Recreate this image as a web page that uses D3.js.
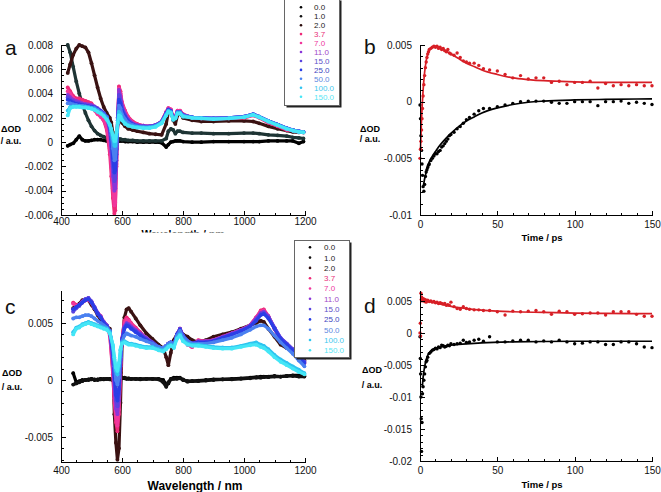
<!DOCTYPE html>
<html><head><meta charset="utf-8">
<script src="https://cdn.jsdelivr.net/npm/d3@7"></script>
<style>
body{margin:0;background:#fff}
svg{display:block}
text{font-family:"Liberation Sans",Arial,Helvetica,sans-serif}
</style>
</head><body>
<svg id="chart" width="661" height="492"></svg>
<script>
// ---------- DATA (ΔOD values given in units of 10^-3, i.e. mOD) ----------
const DELAYS = ["0.0","1.0","2.0","3.7","7.0","11.0","15.0","25.0","50.0","100.0","150.0"];
const COLORS_A = ["#000000","#1e3434","#3a1212","#ee2a78","#f0379c","#8a36d8","#5a44e0","#2a3ee6","#4a80f0","#2ec4f0","#44e6f6"];
const COLORS_C = ["#000000","#111111","#3a1212","#ee2a78","#f0379c","#8a36d8","#5a44e0","#2a3ee6","#4a80f0","#2ec4f0","#44e6f6"];
const LEGEND_MARK = ["#000","#111","#2a0a0a","#ee2a78","#f0379c","#8a36d8","#5a44e0","#2a3ee6","#4a80f0","#2ec4f0","#44e6f6"];
const LEGEND_TEXT = ["#222","#222","#222","#e8307a","#ee3aa0","#a048c8","#6050c8","#4048c0","#6088e0","#44c8ee","#5ae6f4"];

// Panel a: wavelength grid (nm)
const WL_A = [422,430,440,450,460,470,480,490,500,510,520,530,540,550,560,565,570,575,578,582,586,590,595,600,610,620,635,650,670,690,710,730,745,752,760,768,775,782,790,800,830,860,900,950,1000,1030,1050,1080,1110,1140,1160,1180,1195];
const A_0_0 = [-0.3,-0.2,-0.1,0.2,0.5,0.2,0.1,0.1,0.15,0.2,0.2,0.2,0.15,0.1,0.1,0.1,0.05,0.0,-0.1,0.0,0.1,0.1,0.1,0.1,0.05,0.05,0.05,0.0,0.0,0.0,0.0,-0.05,-0.4,-0.2,0.0,0.05,0.1,0.1,0.1,0.05,0.0,0.0,0.05,0.05,0.05,0.05,0.05,0.1,0.1,0.1,0.1,-0.1,0.05];
const A_1_0 = [8.0,7.4,6.2,5.0,4.0,3.1,2.4,1.8,1.3,0.95,0.7,0.55,0.45,0.35,0.3,0.3,0.2,-0.2,-0.4,-0.2,0.1,0.25,0.25,0.2,0.2,0.15,0.15,0.1,0.1,0.1,0.1,0.1,0.3,0.9,1.1,1.0,0.7,0.9,0.9,0.8,0.75,0.75,0.7,0.7,0.75,0.75,0.7,0.6,0.55,0.5,0.4,0.35,0.3];
const A_2_0 = [5.7,6.4,7.2,7.7,8.0,7.9,7.8,7.4,6.5,5.5,4.5,3.6,2.9,2.4,2.0,1.6,0.8,-1.0,-2.0,-0.5,1.5,2.5,2.2,1.6,1.3,1.1,1.0,0.9,0.8,0.7,0.65,0.6,1.5,2.5,2.6,1.8,1.5,2.2,2.4,2.0,1.8,1.7,1.7,1.75,1.75,1.7,1.55,1.3,1.1,0.95,0.85,0.8,0.8];
const A_3_7 = [4.5,4.2,3.8,3.6,3.6,3.5,3.4,3.3,3.2,2.8,2.4,2.1,1.8,1.0,-1.0,-2.8,-4.6,-5.9,-5.6,-2.0,2.0,4.6,4.2,3.3,2.6,2.1,1.7,1.5,1.35,1.3,1.4,1.7,2.5,2.8,2.7,2.0,2.1,2.6,2.6,2.3,2.0,1.95,1.9,1.95,2.0,2.2,2.0,1.6,1.3,1.0,0.95,0.85,0.8];
const A_7_0 = [4.2,4.0,3.6,3.4,3.3,3.2,3.1,3.0,2.9,2.6,2.3,2.1,1.8,1.2,-0.5,-2.0,-3.8,-5.2,-5.0,-1.8,2.0,4.4,4.0,3.2,2.5,2.0,1.6,1.45,1.35,1.3,1.4,1.7,2.5,2.8,2.7,2.0,2.1,2.6,2.6,2.3,2.0,1.95,1.95,2.0,2.05,2.25,2.05,1.65,1.35,1.05,0.95,0.85,0.8];
const A_11 = [3.9,3.7,3.5,3.4,3.3,3.2,3.15,3.1,3.05,2.95,2.8,2.6,2.4,2.0,0.8,-0.8,-2.8,-4.0,-3.8,-1.5,2.0,4.3,3.8,3.0,2.3,1.9,1.55,1.4,1.35,1.3,1.4,1.7,2.4,2.7,2.6,1.9,2.0,2.5,2.5,2.25,2.05,2.0,1.95,2.0,2.1,2.3,2.1,1.75,1.45,1.15,1.0,0.9,0.85];
const A_15 = [3.7,3.5,3.35,3.25,3.2,3.1,3.05,3.0,2.95,2.9,2.75,2.6,2.4,2.1,1.1,-0.3,-2.0,-3.2,-3.0,-1.0,2.0,3.9,3.5,2.8,2.2,1.8,1.5,1.35,1.3,1.3,1.4,1.7,2.4,2.7,2.6,1.9,2.0,2.5,2.5,2.25,2.05,2.0,1.95,2.0,2.1,2.3,2.1,1.75,1.45,1.15,1.0,0.9,0.85];
const A_25 = [3.5,3.4,3.25,3.15,3.1,3.05,3.0,2.95,2.9,2.85,2.7,2.55,2.35,2.1,1.3,0.2,-1.3,-2.5,-2.3,-0.6,1.8,3.5,3.2,2.6,2.1,1.7,1.45,1.3,1.25,1.25,1.35,1.65,2.35,2.65,2.55,1.9,2.0,2.45,2.45,2.2,2.05,2.0,1.95,2.0,2.1,2.3,2.1,1.75,1.45,1.15,1.0,0.9,0.85];
const A_50 = [3.2,3.2,3.1,3.05,3.0,3.0,2.95,2.9,2.85,2.8,2.65,2.5,2.3,2.05,1.4,0.6,-0.5,-1.5,-1.4,-0.2,1.6,3.0,2.8,2.3,1.9,1.6,1.4,1.3,1.25,1.25,1.35,1.65,2.3,2.6,2.5,1.9,2.0,2.45,2.45,2.2,2.05,2.0,1.95,2.0,2.1,2.3,2.1,1.75,1.45,1.15,1.0,0.9,0.85];
const A_100 = [2.6,2.9,2.95,2.95,2.95,2.9,2.9,2.85,2.8,2.7,2.55,2.4,2.2,1.9,1.4,0.9,0.3,-0.3,-0.3,0.5,1.6,2.5,2.3,1.9,1.6,1.4,1.3,1.25,1.2,1.2,1.3,1.6,2.25,2.55,2.45,1.85,1.95,2.4,2.4,2.15,2.0,1.95,1.9,1.95,2.05,2.25,2.05,1.7,1.4,1.1,0.95,0.85,0.8];
const A_150 = [2.2,2.8,2.9,2.9,2.9,2.85,2.85,2.8,2.75,2.65,2.5,2.35,2.15,1.85,1.45,1.1,0.6,0.1,0.1,0.8,1.6,2.2,2.1,1.8,1.5,1.35,1.25,1.2,1.15,1.15,1.25,1.55,2.2,2.5,2.4,1.85,1.95,2.35,2.35,2.1,2.0,1.95,1.9,1.95,2.05,2.25,2.05,1.7,1.4,1.1,0.95,0.85,0.8];

// Panel c: wavelength grid (nm)
const WL_C = [440,450,460,470,480,490,500,510,520,530,540,550,560,570,575,580,585,590,595,600,608,615,622,630,645,660,680,700,720,735,745,752,760,770,780,790,800,815,830,850,875,900,930,960,990,1020,1040,1055,1065,1080,1100,1120,1140,1160,1180,1198];
const C_0_0 = [0.6,-0.2,-0.1,0.0,0.0,0.05,0.1,0.0,0.05,0.1,0.05,0.1,0.1,0.0,-0.2,-0.4,-0.2,0.0,0.1,0.15,0.15,0.1,0.15,0.1,0.1,0.1,0.1,0.1,0.1,0.0,-0.4,-0.3,0.1,0.2,0.2,0.2,0.0,-0.1,-0.1,-0.05,0.0,0.05,0.05,0.1,0.15,0.2,0.25,0.3,0.3,0.3,0.35,0.3,0.35,0.4,0.4,0.35];
const C_1_0 = [-0.4,-0.3,-0.2,-0.1,0.0,0.0,0.05,0.05,0.0,0.05,0.1,0.1,0.05,0.0,-0.3,-0.5,-0.3,-0.1,0.1,0.2,0.2,0.15,0.1,0.1,0.1,0.05,0.1,0.1,0.05,-0.2,-0.6,-0.2,0.05,0.1,0.1,0.15,0.05,-0.15,-0.1,-0.1,-0.05,0.0,0.05,0.05,0.1,0.15,0.2,0.2,0.25,0.25,0.3,0.3,0.35,0.35,0.3,0.3];
const C_2_0 = [6.3,6.5,6.7,7.0,7.0,7.0,6.6,6.2,5.7,5.3,4.9,4.7,4.5,1.5,-3.0,-5.5,-7.0,-6.0,-2.0,3.0,5.5,6.2,6.3,6.0,5.4,4.8,4.1,3.6,3.1,2.8,2.0,1.3,2.4,3.5,4.0,4.4,4.0,3.8,3.5,3.3,3.5,3.8,4.0,4.2,4.5,4.8,5.0,5.2,5.1,4.5,3.8,3.1,2.8,2.5,2.1,1.7];
const C_3_7 = [6.8,6.6,6.6,6.8,7.0,7.1,6.8,6.3,5.9,5.6,5.1,4.8,3.9,0.5,-2.0,-3.7,-4.5,-3.0,0.5,3.6,5.2,5.5,5.3,5.0,4.6,4.2,3.6,3.2,2.8,2.7,3.0,3.2,3.3,3.0,4.0,4.5,3.9,3.1,2.9,3.5,3.4,3.5,3.8,4.1,4.4,4.8,5.5,6.1,6.2,5.6,4.5,3.5,3.0,2.5,2.0,1.5];
const C_7_0 = [6.7,6.5,6.6,6.8,7.0,7.0,6.8,6.3,5.9,5.6,5.1,4.8,4.0,0.8,-1.6,-3.2,-4.0,-2.6,0.8,3.6,5.0,5.3,5.2,4.9,4.5,4.1,3.6,3.2,2.8,2.7,3.0,3.2,3.3,3.0,4.0,4.5,3.9,3.1,2.9,3.4,3.4,3.5,3.8,4.1,4.4,4.8,5.5,6.0,6.1,5.6,4.5,3.5,3.0,2.5,2.0,1.5];
const C_11 = [6.2,6.4,6.6,6.9,7.1,7.2,6.9,6.4,5.9,5.6,5.1,4.8,4.2,1.5,-0.8,-2.5,-3.0,-1.8,1.2,3.6,4.7,5.0,4.9,4.7,4.4,4.1,3.7,3.3,2.9,2.8,3.0,3.2,3.3,3.0,4.0,4.5,3.9,3.4,3.2,3.4,3.4,3.5,3.8,4.1,4.4,4.8,5.4,5.9,6.0,5.6,4.6,3.7,3.2,2.7,2.1,1.6];
const C_15 = [6.0,6.3,6.5,6.8,7.1,7.2,6.9,6.4,5.9,5.5,5.1,4.8,4.3,2.0,0.0,-1.8,-2.3,-1.2,1.5,3.6,4.6,4.9,4.8,4.6,4.3,4.0,3.6,3.3,2.9,2.8,3.0,3.2,3.3,3.0,4.0,4.5,3.9,3.4,3.2,3.3,3.3,3.4,3.7,4.0,4.3,4.7,5.3,5.8,5.9,5.5,4.6,3.7,3.2,2.7,2.1,1.6];
const C_25 = [6.2,6.4,6.6,6.8,7.0,7.1,6.8,6.3,5.8,5.5,5.0,4.7,4.3,2.3,0.4,-1.3,-1.8,-0.8,1.7,3.5,4.5,4.8,4.7,4.5,4.2,3.9,3.5,3.2,2.9,2.8,3.0,3.2,3.3,3.0,4.0,4.4,3.9,3.4,3.2,3.3,3.3,3.4,3.7,4.0,4.3,4.7,5.2,5.7,5.8,5.4,4.5,3.6,3.1,2.6,2.0,1.5];
const C_50 = [5.4,5.5,5.5,5.6,5.7,5.7,5.6,5.4,5.2,5.0,4.8,4.6,4.3,2.8,1.2,0.0,-0.4,0.2,2.0,3.4,3.9,4.1,4.0,3.9,3.8,3.6,3.4,3.2,2.9,2.8,3.0,3.2,3.3,3.0,3.9,4.3,3.8,3.4,3.2,3.2,3.2,3.3,3.5,3.7,4.0,4.4,4.7,4.8,4.8,4.5,3.9,3.3,2.8,2.3,1.7,1.2];
const C_100 = [4.2,4.6,4.7,4.9,5.0,5.1,5.0,4.9,4.8,4.7,4.6,4.5,4.2,3.0,1.8,0.8,0.5,1.2,2.6,3.3,3.4,3.3,3.2,3.2,3.1,3.0,2.9,2.9,2.7,2.6,2.8,3.0,3.1,2.9,3.7,4.0,3.5,3.2,3.1,3.1,3.0,2.9,2.85,2.85,3.0,3.2,3.3,3.1,3.0,2.7,2.2,1.8,1.5,1.2,0.9,0.6];
const C_150 = [4.0,4.5,4.6,4.8,4.9,5.0,4.9,4.8,4.7,4.6,4.5,4.4,4.1,3.1,2.0,1.1,0.8,1.5,2.7,3.2,3.3,3.2,3.1,3.1,3.0,2.9,2.8,2.8,2.6,2.5,2.7,2.9,3.0,2.8,3.6,3.9,3.4,3.1,3.0,3.0,2.9,2.8,2.75,2.75,2.9,3.05,3.1,2.9,2.8,2.5,2.0,1.6,1.3,1.0,0.7,0.5];

// Panel b: kinetics (ps, mOD)
const T_B = [0,0.3,0.6,1,1.3,1.6,2,2.5,3,3.5,4,4.5,5,5.5,6,7,8,9,10,11,12,13,14,15,16,17,18,19,20,22,24,26,28,30,32,35,38,41,45,50,55,60,65,70,75,80,85,90,95,100,105,110,115,120,125,130,135,140,145,150];
const RED_B = [-5.0,-4.2,-3.5,-2.5,-1.5,-0.6,0.5,1.5,2.3,3.0,3.5,3.9,4.2,4.4,4.6,4.7,4.8,4.9,4.8,4.9,4.7,4.8,4.6,4.7,4.5,4.4,4.6,4.3,4.2,4.1,4.3,3.9,3.6,3.5,3.4,3.4,3.2,2.9,2.8,2.7,2.4,2.1,2.3,2.0,2.1,2.1,1.7,1.8,1.5,1.7,1.7,1.8,1.2,1.6,1.4,1.5,1.4,1.5,1.4,1.4];
const BLACK_B = [-0.3,-1.5,-3.0,-4.3,-5.5,-6.5,-7.5,-7.9,-7.3,-6.6,-6.2,-6.0,-5.8,-5.6,-5.5,-5.2,-5.0,-4.8,-4.6,-4.6,-4.4,-4.3,-4.0,-3.9,-3.7,-3.5,-3.3,-3.0,-2.9,-2.7,-2.4,-2.2,-1.9,-1.6,-1.4,-1.1,-0.8,-0.6,-0.6,-0.45,-0.3,-0.15,0.0,0.05,0.05,0.05,-0.05,-0.15,-0.15,0.0,0.0,0.0,-0.35,0.0,0.0,0.05,-0.15,-0.05,-0.15,-0.25];
const FIT_RED_B_T = [0.3,1,2,3,4,5,6,7,8,10,12,15,20,25,30,35,40,50,60,70,80,90,100,120,150];
const FIT_RED_B = [-4.3,-1.5,1.0,2.6,3.6,4.2,4.55,4.75,4.85,4.9,4.8,4.6,4.2,3.8,3.4,3.1,2.8,2.4,2.1,1.95,1.85,1.8,1.75,1.7,1.7];
const FIT_BLACK_B_T = [2,3,4,5,6,8,10,12,15,20,25,30,35,40,50,60,70,80,100,120,150];
const FIT_BLACK_B = [-7.6,-6.8,-6.2,-5.7,-5.3,-4.8,-4.4,-4.0,-3.5,-2.8,-2.2,-1.7,-1.35,-1.0,-0.55,-0.25,-0.05,0.05,0.15,0.2,0.25];

// Panel d: kinetics (ps, mOD)
const T_D = [0,0.2,0.4,0.6,0.8,1,1.3,1.6,2,2.5,3,3.5,4,4.5,5,6,7,8,9,10,11,12,13,14,15,16,17,18,19,20,22,24,26,28,30,32,35,38,41,45,50,55,60,65,70,75,80,85,90,95,100,105,110,115,120,125,130,135,140,145,150];
const RED_D = [0.0,1.5,-0.5,6.2,5.2,5.6,5.0,5.4,5.1,5.3,4.9,5.2,4.8,5.0,5.1,4.9,5.0,4.8,4.9,4.7,4.8,4.6,4.7,4.6,4.5,4.6,4.3,4.4,4.3,4.8,4.1,3.8,3.7,4.1,3.8,3.7,3.6,3.6,3.5,3.5,3.3,2.8,3.4,3.3,3.4,3.5,3.3,2.9,3.4,3.3,2.9,3.0,3.1,3.1,2.8,3.3,3.3,3.3,2.9,2.6,2.6];
const BLACK_D = [-0.6,-4.0,-6.4,-10.0,-13.4,-18.5,-14.0,-9.5,-8.4,-7.4,-6.4,-5.3,-4.5,-4.3,-3.8,-3.2,-3.0,-2.7,-2.6,-2.4,-2.5,-2.2,-2.3,-1.9,-2.0,-2.2,-2.1,-1.9,-2.0,-1.7,-1.8,-1.7,-1.6,-1.15,-1.5,-1.4,-1.15,-1.0,-1.3,-0.6,-1.4,-1.4,-1.25,-1.15,-1.15,-1.4,-1.25,-1.4,-1.15,-1.4,-1.7,-1.6,-1.4,-1.4,-1.8,-1.8,-1.4,-1.4,-1.7,-2.2,-2.3];
const FIT_RED_D_T = [0.5,2,5,10,15,20,25,30,40,50,60,80,100,120,150];
const FIT_RED_D = [5.4,5.2,5.0,4.7,4.4,4.15,3.95,3.8,3.55,3.4,3.3,3.2,3.1,3.05,3.0];
const FIT_BLACK_D_T = [1.5,2,3,4,5,7,10,15,20,30,40,60,100,150];
const FIT_BLACK_D = [-8.5,-7.0,-5.3,-4.2,-3.5,-2.8,-2.4,-2.1,-1.9,-1.7,-1.55,-1.4,-1.3,-1.3];

// Tick values (mOD / nm / ps) and labels
const A_YTICKS = [-6,-4,-2,0,2,4,6,8];
const A_YLABELS = ["-0.006","-0.004","-0.002","0","0.002","0.004","0.006","0.008"];
const WL_TICKS = [400,600,800,1000,1200];
const WL_LABELS = ["400","600","800","1000","1200"];
const B_YTICKS = [-10,-5,0,5];
const B_YLABELS = ["-0.01","-0.005","0","0.005"];
const C_YTICKS = [-5,0,5];
const C_YLABELS = ["-0.005","0","0.005"];
const D_YTICKS = [-20,-15,-10,-5,0,5];
const D_YLABELS = ["-0.02","-0.015","-0.01","-0.005","0","0.005"];
const T_TICKS = [0,50,100,150];
const T_LABELS = ["0","50","100","150"];

const SPEC_A = [A_0_0,A_1_0,A_2_0,A_3_7,A_7_0,A_11,A_15,A_25,A_50,A_100,A_150];
const SPEC_C = [C_0_0,C_1_0,C_2_0,C_3_7,C_7_0,C_11,C_15,C_25,C_50,C_100,C_150];

// ---------- DRAWING ----------
const svg = d3.select("#chart");
const RED = "#d71f26";

function axes(g, x, y, o) {
  const x0 = x.range()[0], y0 = y.range()[0];
  const style = s => { s.selectAll("path,line").attr("stroke","#000").attr("stroke-width",1).attr("shape-rendering","crispEdges");
                       s.selectAll("text").attr("font-size",10).attr("fill","#111").attr("font-family","Liberation Sans, Arial, sans-serif"); };
  g.append("g").attr("transform",`translate(${x0},0)`)
    .call(d3.axisLeft(y).tickValues(o.yMinor).tickSizeInner(-2.5).tickSizeOuter(0).tickFormat(""))
    .call(s=>s.select(".domain").remove()).call(style);
  g.append("g").attr("transform",`translate(${x0},0)`)
    .call(d3.axisLeft(y).tickValues(o.yTicks).tickSizeInner(-5).tickSizeOuter(0).tickPadding(8).tickFormat((d,i)=>o.yLabels[i]))
    .call(style);
  g.append("g").attr("transform",`translate(0,${y0})`)
    .call(d3.axisBottom(x).tickValues(o.xMinor).tickSizeInner(-2.5).tickSizeOuter(0).tickFormat(""))
    .call(s=>s.select(".domain").remove()).call(style);
  g.append("g").attr("transform",`translate(0,${y0})`)
    .call(d3.axisBottom(x).tickValues(o.xTicks).tickSizeInner(-4.5).tickSizeOuter(0).tickPadding(o.xPad).tickFormat((d,i)=>o.xLabels[i]))
    .call(style);
}

function spectra(g, x, y, wl, series, colors) {
  series.forEach((vals, i) => {
    const pts = wl.map((w, j) => [w, vals[j]]);
    g.append("path").datum(pts)
      .attr("fill","none").attr("stroke",colors[i]).attr("stroke-width",3.2)
      .attr("stroke-linejoin","round").attr("stroke-linecap","round")
      .attr("d", d3.line().x(d=>x(d[0])).y(d=>y(d[1])));
    g.selectAll(null).data(pts).enter().append("circle")
      .attr("cx",d=>x(d[0])).attr("cy",d=>y(d[1])).attr("r",1.9).attr("fill",colors[i]);
  });
}

function kinetics(g, x, y, t, vals, color) {
  g.selectAll(null).data(t.map((tt,i)=>[tt,vals[i]])).enter().append("circle")
    .attr("cx",d=>x(d[0])).attr("cy",d=>y(d[1])).attr("r",1.7).attr("fill",color);
}
function fit(g, x, y, t, vals, color) {
  g.append("path").datum(t.map((tt,i)=>[tt,vals[i]]))
    .attr("fill","none").attr("stroke",color).attr("stroke-width",1.7)
    .attr("d", d3.line().curve(d3.curveMonotoneX).x(d=>x(d[0])).y(d=>y(d[1])));
}

function yTitle(cx, y1, y2) {
  svg.append("text").attr("x",cx).attr("y",y1).attr("text-anchor","middle").attr("font-size",9).attr("font-weight","bold").text("ΔOD");
  svg.append("text").attr("x",cx).attr("y",y2).attr("text-anchor","middle").attr("font-size",9).attr("font-weight","bold").text("/ a.u.");
}
function letter(t, xx, yy) {
  svg.append("text").attr("x",xx).attr("y",yy).attr("font-size",21).attr("font-family","Liberation Serif, Times New Roman, serif").attr("fill","#111").text(t);
}
function legend(x0, y0, w, h, rowY0, dy, markX, textX) {
  const g = svg.append("g");
  g.append("rect").attr("x",x0+2).attr("y",y0+2).attr("width",w).attr("height",h).attr("fill","#222");
  g.append("rect").attr("x",x0).attr("y",y0).attr("width",w).attr("height",h).attr("fill","#fff").attr("stroke","#666").attr("stroke-width",1);
  DELAYS.forEach((lab,i) => {
    const yy = rowY0 + i*dy;
    g.append("circle").attr("cx",markX).attr("cy",yy).attr("r",1.3).attr("fill",LEGEND_MARK[i]);
    g.append("text").attr("x",textX).attr("y",yy+2.9).attr("font-size",8).attr("fill",LEGEND_TEXT[i]).text(lab);
  });
}

const wlMinor = d3.range(400,1201,50);
const tMinor = d3.range(0,151,10);

// Panel a
{
  const x = d3.scaleLinear().domain([400,1200]).range([61,305]);
  const y = d3.scaleLinear().domain([-6,8]).range([215,45]);
  const g = svg.append("g");
  spectra(g, x, y, WL_A, SPEC_A, COLORS_A);
  axes(g, x, y, {yTicks:A_YTICKS, yLabels:A_YLABELS, yMinor:d3.range(-6,8.01,0.5), xTicks:WL_TICKS, xLabels:WL_LABELS, xMinor:wlMinor, xPad:2.5});
  // partially hidden axis title
  svg.append("clipPath").attr("id","clipA").append("rect").attr("x",0).attr("y",0).attr("width",330).attr("height",232.5);
  svg.append("text").attr("clip-path","url(#clipA)").attr("x",183).attr("y",238).attr("text-anchor","middle").attr("font-size",10.5).attr("font-weight","bold").text("Wavelength / nm");
}
// Panel b
{
  const x = d3.scaleLinear().domain([0,150]).range([420,652]);
  const y = d3.scaleLinear().domain([-10,5]).range([215,45]);
  const g = svg.append("g");
  kinetics(g, x, y, T_B, BLACK_B, "#000");
  kinetics(g, x, y, T_B, RED_B, RED);
  fit(g, x, y, FIT_BLACK_B_T, FIT_BLACK_B, "#000");
  fit(g, x, y, FIT_RED_B_T, FIT_RED_B, RED);
  axes(g, x, y, {yTicks:B_YTICKS, yLabels:B_YLABELS, yMinor:d3.range(-10,5.01,1), xTicks:T_TICKS, xLabels:T_LABELS, xMinor:tMinor, xPad:5.5});
  svg.append("text").attr("x",542).attr("y",241).attr("text-anchor","middle").attr("font-size",9.5).attr("font-weight","bold").text("Time / ps");
}
// Panel c
{
  const x = d3.scaleLinear().domain([400,1200]).range([61,305]);
  const y = d3.scaleLinear().domain([-7.2,7.9]).range([462,290]);
  const g = svg.append("g");
  spectra(g, x, y, WL_C, SPEC_C, COLORS_C);
  axes(g, x, y, {yTicks:C_YTICKS, yLabels:C_YLABELS, yMinor:d3.range(-7,7.01,1), xTicks:WL_TICKS, xLabels:WL_LABELS, xMinor:wlMinor, xPad:4.5});
  svg.append("text").attr("x",195).attr("y",490).attr("text-anchor","middle").attr("font-size",12).attr("font-weight","bold").text("Wavelength / nm");
}
// Panel d
{
  const x = d3.scaleLinear().domain([0,150]).range([420,652]);
  const y = d3.scaleLinear().domain([-20,6.7]).range([461,290]);
  const g = svg.append("g");
  kinetics(g, x, y, T_D, BLACK_D, "#000");
  kinetics(g, x, y, T_D, RED_D, RED);
  fit(g, x, y, FIT_BLACK_D_T, FIT_BLACK_D, "#000");
  fit(g, x, y, FIT_RED_D_T, FIT_RED_D, RED);
  axes(g, x, y, {yTicks:D_YTICKS, yLabels:D_YLABELS, yMinor:d3.range(-20,6.01,1), xTicks:T_TICKS, xLabels:T_LABELS, xMinor:tMinor, xPad:5.5});
  svg.append("text").attr("x",542).attr("y",488).attr("text-anchor","middle").attr("font-size",9.5).attr("font-weight","bold").text("Time / ps");
}

yTitle(11, 132, 144);
yTitle(370, 132, 142);
yTitle(12, 376, 390);
yTitle(372, 373, 388);
letter("a", 5, 55);
letter("b", 364, 54);
letter("c", 5, 314);
letter("d", 364, 313);

legend(284.5, -1.5, 55, 107, 7.3, 8.94, 301, 314);
legend(294.5, 240.5, 55, 117, 247.3, 10.3, 310, 324);
</script>
</body></html>
